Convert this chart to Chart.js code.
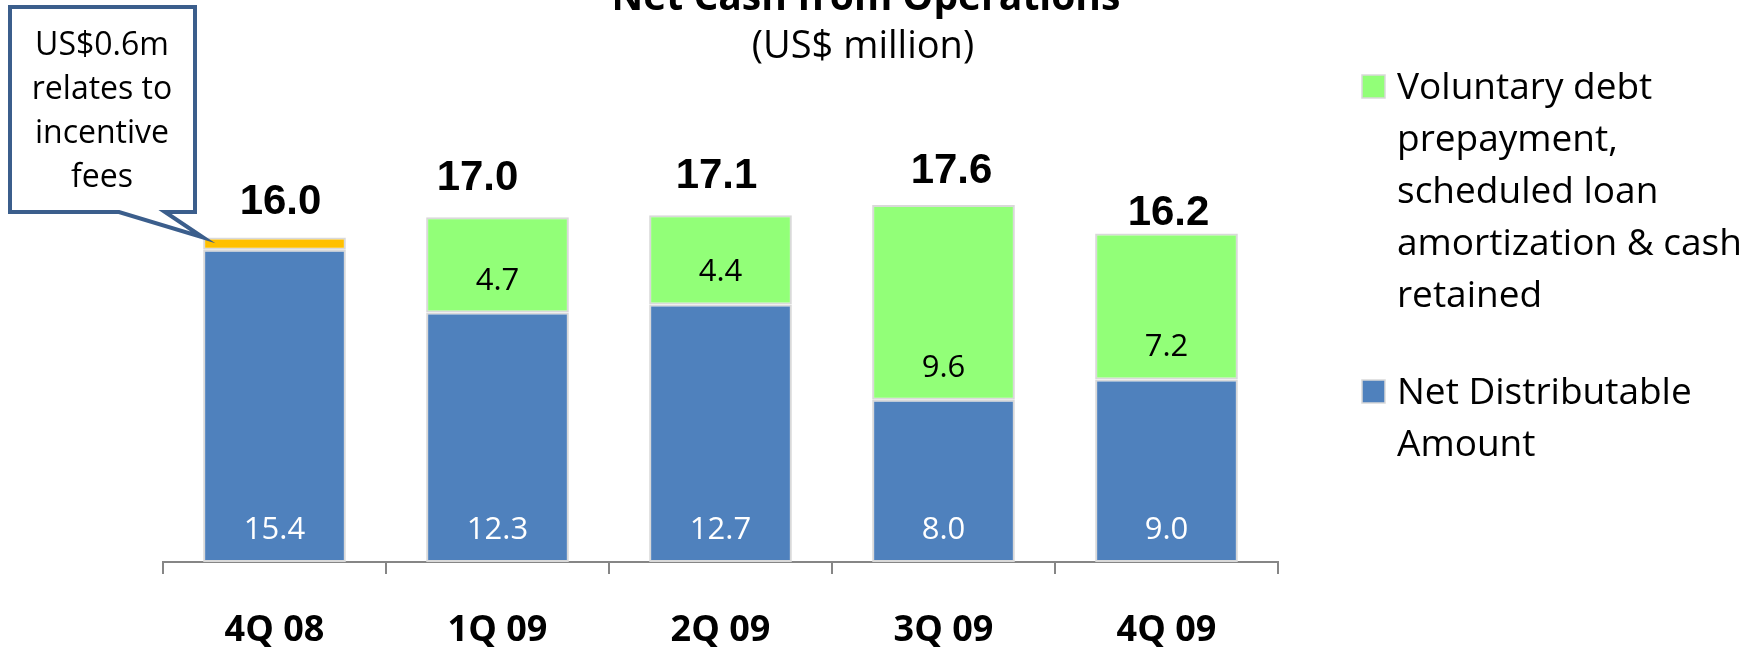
<!DOCTYPE html>
<html>
<head>
<meta charset="utf-8">
<title>Net Cash from Operations</title>
<script src="https://cdn.jsdelivr.net/npm/chart.js@4.4.1/dist/chart.umd.min.js"></script>
<style>
  html, body { margin: 0; padding: 0; background: #fff; }
  #wrap { width: 1758px; height: 648px; }
</style>
</head>
<body>
<div id="wrap"><canvas id="cashChart" width="1758" height="648"></canvas></div>
<script>
const quarters = ["4Q 08", "1Q 09", "2Q 09", "3Q 09", "4Q 09"];
const netDistributable = [15.4, 12.3, 12.7, 8.0, 9.0];
const incentiveFees = [0.6, null, null, null, null];
const debtAndCashRetained = [null, 4.7, 4.4, 9.6, 7.2];
const totals = [16.0, 17.0, 17.1, 17.6, 16.2];

const titleText = "Net Cash from Operations";
const subtitleText = "(US$ million)";
const calloutLines = ["US$0.6m", "relates to", "incentive", "fees"];
const greenLegend = ["Voluntary debt", "prepayment,", "scheduled loan", "amortization & cash", "retained"];
const blueLegend = ["Net Distributable", "Amount"];

// the totals were hand placed in the original, so nudge them a bit
const totalNudgeX = [6, -20, -4, 8, 2];
const totalGap = [24, 27, 27, 22, 8];

const BLUE = "#4F81BD";
const GREEN = "#92FF78";
const ORANGE = "#FFC000";
const EDGE = "#D9D9D9";
const AXIS = "#868686";
const SANS = "'Open Sans', sans-serif";

const barLabels = {
  id: "barLabels",
  afterDatasetsDraw(chart) {
    const ctx = chart.ctx;
    const yScale = chart.scales.y;
    const xScale = chart.scales.x;
    ctx.save();
    ctx.textAlign = "center";
    ctx.textBaseline = "alphabetic";
    ctx.font = "31px " + SANS;

    chart.getDatasetMeta(0).data.forEach((bar, i) => {
      ctx.fillStyle = "#fff";
      ctx.fillText(netDistributable[i].toFixed(1), bar.x, bar.base - 23);
    });
    chart.getDatasetMeta(2).data.forEach((bar, i) => {
      if (debtAndCashRetained[i] == null) return;
      ctx.fillStyle = "#000";
      ctx.fillText(debtAndCashRetained[i].toFixed(1), bar.x, bar.base - 23);
    });

    ctx.font = "bold 42px 'Liberation Sans', Arial, sans-serif";
    ctx.fillStyle = "#000";
    totals.forEach((t, i) => {
      const x = xScale.getPixelForValue(i) + totalNudgeX[i];
      ctx.fillText(t.toFixed(1), x, yScale.getPixelForValue(t) - totalGap[i]);
    });
    ctx.restore();
  }
};

const decorations = {
  id: "decorations",
  afterDraw(chart) {
    const ctx = chart.ctx;
    ctx.save();

    // title runs off the top edge in the source picture
    ctx.fillStyle = "#000";
    ctx.textAlign = "center";
    ctx.font = "bold 39px " + SANS;
    ctx.fillText(titleText, 866, 10);
    ctx.font = "38px " + SANS;
    ctx.fillText(subtitleText, 863, 58);

    // callout pointing at the incentive fee slice
    const fee = chart.getDatasetMeta(1).data[0];
    const tipX = fee.x - fee.width / 2;
    const tipY = fee.y;
    ctx.beginPath();
    ctx.moveTo(10, 7);
    ctx.lineTo(195, 7);
    ctx.lineTo(195, 212);
    ctx.lineTo(165, 212);
    ctx.lineTo(tipX, tipY);
    ctx.lineTo(119, 212);
    ctx.lineTo(10, 212);
    ctx.closePath();
    ctx.fillStyle = "#fff";
    ctx.fill();
    ctx.lineWidth = 4;
    ctx.lineJoin = "miter";
    ctx.strokeStyle = "#3B5E8C";
    ctx.stroke();

    ctx.fillStyle = "#000";
    ctx.font = "32px " + SANS;
    calloutLines.forEach((line, i) => {
      ctx.fillText(line, 102, 55 + i * 44);
    });

    // legend, wrapped the way the original is
    ctx.textAlign = "left";
    ctx.font = "37px " + SANS;
    const drawItem = (color, lines, top) => {
      ctx.fillStyle = color;
      ctx.fillRect(1362, top, 23, 23);
      ctx.strokeStyle = EDGE;
      ctx.lineWidth = 1.5;
      ctx.strokeRect(1362, top, 23, 23);
      ctx.fillStyle = "#000";
      lines.forEach((line, i) => ctx.fillText(line, 1397, top + 24 + i * 52));
    };
    drawItem(GREEN, greenLegend, 75);
    drawItem(BLUE, blueLegend, 380);

    ctx.restore();
  }
};

const commonBar = {
  barPercentage: 0.64,
  categoryPercentage: 1.0,
  borderWidth: 2,
  borderColor: EDGE,
  borderSkipped: false
};

new Chart(document.getElementById("cashChart"), {
  type: "bar",
  data: {
    labels: quarters,
    datasets: [
      Object.assign({ label: "Net Distributable Amount", data: netDistributable, backgroundColor: BLUE }, commonBar),
      Object.assign({ label: "Incentive fees", data: incentiveFees, backgroundColor: ORANGE }, commonBar),
      Object.assign({ label: "Voluntary debt prepayment, scheduled loan amortization & cash retained", data: debtAndCashRetained, backgroundColor: GREEN }, commonBar)
    ]
  },
  options: {
    responsive: false,
    devicePixelRatio: 1,
    animation: false,
    layout: { padding: { left: 163, right: 480, top: 55, bottom: 0 } },
    plugins: {
      legend: { display: false },
      tooltip: { enabled: false }
    },
    scales: {
      x: {
        stacked: true,
        grid: {
          display: true,
          drawOnChartArea: false,
          drawTicks: true,
          tickLength: 12,
          color: AXIS,
          lineWidth: 2,
          offset: true
        },
        border: { display: true, color: AXIS, width: 2 },
        ticks: {
          color: "#000",
          padding: 35,
          font: { family: SANS, size: 36, weight: "bold" }
        },
        afterFit(scale) { scale.height = 86; }
      },
      y: { stacked: true, display: false, min: 0, max: 25 }
    }
  },
  plugins: [barLabels, decorations]
});
</script>
</body>
</html>
